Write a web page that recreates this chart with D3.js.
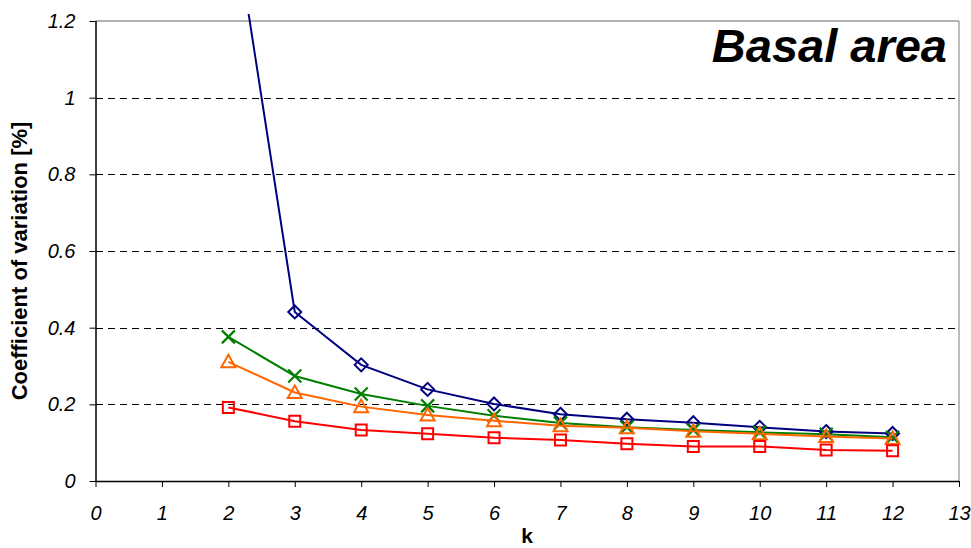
<!DOCTYPE html>
<html><head><meta charset="utf-8">
<script src="https://cdn.jsdelivr.net/npm/d3@7"></script>
<style>body{margin:0;background:#fff}svg{display:block}</style>
</head><body>
<script>
const kValues = [2,3,4,5,6,7,8,9,10,11,12];
const blueDiamond = [1.56,0.441,0.303,0.239,0.201,0.174,0.161,0.152,0.140,0.129,0.124];
const greenX = [0.376,0.274,0.227,0.196,0.170,0.151,0.140,0.133,0.127,0.122,0.114];
const orangeTriangle = [0.311,0.231,0.194,0.172,0.157,0.144,0.139,0.130,0.123,0.116,0.111];
const redSquare = [0.192,0.156,0.133,0.123,0.113,0.107,0.097,0.090,0.090,0.081,0.079];
const xTicks = [0,1,2,3,4,5,6,7,8,9,10,11,12,13];
const yTicks = [0,0.2,0.4,0.6,0.8,1,1.2];
const gridTicks = [0.2,0.4,0.6,0.8,1];

const W=971,H=548;
const m={top:21,right:12,bottom:67,left:95.5};
const svg=d3.select("body").append("svg").attr("width",W).attr("height",H);
const x=d3.scaleLinear().domain([0,13]).range([m.left,W-m.right]);
const y=d3.scaleLinear().domain([0,1.2]).range([H-m.bottom,m.top]);
const font="'Liberation Sans', Arial, sans-serif";

// grid
svg.append("g").selectAll("line").data(gridTicks).join("line")
  .attr("x1",x(0)).attr("x2",x(13))
  .attr("y1",d=>Math.round(y(d))+0.5).attr("y2",d=>Math.round(y(d))+0.5)
  .attr("stroke","#000").attr("stroke-width",1).attr("stroke-dasharray","7,5")
  .attr("shape-rendering","crispEdges");
// top & right border
svg.append("line").attr("x1",x(0)).attr("x2",x(13)).attr("y1",y(1.2)).attr("y2",y(1.2))
  .attr("stroke","#999").attr("stroke-width",1.3);
svg.append("line").attr("x1",x(13)).attr("x2",x(13)).attr("y1",y(1.2)).attr("y2",y(0))
  .attr("stroke","#999").attr("stroke-width",1.3);

// axes
const xAxis=svg.append("g").attr("transform",`translate(0,${y(0)})`)
  .call(d3.axisBottom(x).tickValues(xTicks).tickSize(6).tickPadding(19).tickFormat(d3.format("d")));
const yAxis=svg.append("g").attr("transform",`translate(${x(0)},0)`)
  .call(d3.axisLeft(y).tickValues(yTicks).tickSize(6).tickPadding(14).tickFormat(d=>d===0?"0":(d===1?"1":d3.format(".1f")(d))));
[xAxis,yAxis].forEach(a=>{
  a.select(".domain").attr("stroke","#000").attr("stroke-width",1.5);
  a.selectAll(".tick line").attr("stroke","#000").attr("stroke-width",1);
  a.selectAll("text").attr("font-family",font).attr("font-size",20).attr("font-style","italic").attr("fill","#000");
});
xAxis.select(".domain").attr("d",`M${x(0)},0.5H${x(13)}`);
yAxis.select(".domain").attr("d",`M0.5,${y(0)}V${y(1.2)}`);

// clip
svg.append("clipPath").attr("id","clip").append("rect")
  .attr("x",m.left).attr("y",m.top-7).attr("width",W-m.left-m.right).attr("height",H-m.bottom-m.top+7);

const series=[
  {vals:blueDiamond,color:"#000080",sym:"diamond"},
  {vals:greenX,color:"#008000",sym:"x"},
  {vals:orangeTriangle,color:"#FF6600",sym:"triangle"},
  {vals:redSquare,color:"#FF0000",sym:"square"}
];
const line=d3.line().x(d=>x(d[0])).y(d=>y(d[1]));
const g=svg.append("g").attr("clip-path","url(#clip)");
series.forEach(s=>{
  const pts=kValues.map((k,i)=>[k,s.vals[i]]);
  g.append("path").attr("d",line(pts)).attr("fill","none").attr("stroke",s.color).attr("stroke-width",2);
  const mk=g.append("g").selectAll("path").data(pts.filter(p=>p[1]<=1.2)).join("path")
    .attr("transform",p=>`translate(${x(p[0])},${y(p[1])})`)
    .attr("fill","none").attr("stroke",s.color).attr("stroke-width",2);
  if(s.sym==="diamond") mk.attr("d","M0,-6.5L6.5,0L0,6.5L-6.5,0Z");
  if(s.sym==="square") mk.attr("d","M-5.5,-5.5H5.5V5.5H-5.5Z");
  if(s.sym==="triangle") mk.attr("d","M0,-7L7,5.5L-7,5.5Z");
  if(s.sym==="x") mk.attr("d","M-6.5,-6.5L6.5,6.5M6.5,-6.5L-6.5,6.5").attr("stroke-width",2.2);
});

// title
svg.append("text").attr("x",947).attr("y",62).attr("text-anchor","end")
  .attr("font-family",font).attr("font-size",47).attr("font-weight","bold").attr("font-style","italic")
  .text("Basal area");
// axis titles
svg.append("text").attr("x",527).attr("y",543).attr("text-anchor","middle")
  .attr("font-family",font).attr("font-size",21).attr("font-weight","bold").text("k");
svg.append("text").attr("transform",`translate(27,261) rotate(-90)`).attr("text-anchor","middle")
  .attr("font-family",font).attr("font-size",22).attr("font-weight","bold").text("Coefficient of variation [%]");
</script>
</body></html>
